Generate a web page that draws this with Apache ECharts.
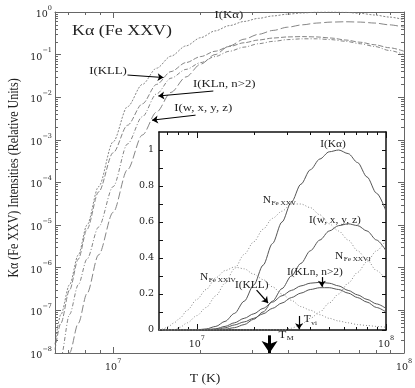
<!DOCTYPE html>
<html>
<head>
<meta charset="utf-8">
<script src="https://cdn.jsdelivr.net/npm/echarts@6/dist/echarts.min.js"></script>
<style>
  html, body { margin: 0; padding: 0; background: #fff; }
  #main { width: 415px; height: 388px; }
</style>
</head>
<body>
<div id="main"></div>
<script>
// temperature grid (K), shared by every curve
var temps = [6.31e6, 6.61e6, 7.08e6, 7.59e6, 8.13e6, 8.91e6, 1.0e7, 1.12e7, 1.26e7, 1.41e7,
  1.58e7, 1.78e7, 2.0e7, 2.24e7, 2.51e7, 2.82e7, 3.16e7, 3.55e7, 3.98e7, 4.47e7,
  5.01e7, 5.62e7, 6.31e7, 7.08e7, 7.94e7, 8.91e7, 1.0e8];

// line intensities (relative units)
var iKa   = [1.6e-8, 8e-8, 4e-7, 2e-6, 1e-5, 8e-5, 9e-4, 6e-3, 0.02, 0.048,
  0.092, 0.16, 0.25, 0.36, 0.48, 0.6, 0.71, 0.81, 0.89, 0.95,
  0.99, 1.0, 0.98, 0.93, 0.85, 0.76, 0.66];
var iKLL  = [1.2e-8, 5e-8, 3e-7, 1.6e-6, 8e-6, 6e-5, 5e-4, 2.2e-3, 7e-3, 0.02,
  0.04, 0.065, 0.09, 0.12, 0.155, 0.19, 0.22, 0.245, 0.26, 0.265,
  0.26, 0.245, 0.22, 0.195, 0.17, 0.145, 0.12];
var iKLn  = [3e-9, 8e-9, 8e-8, 4e-7, 1.6e-6, 9e-6, 8e-5, 8e-4, 3.5e-3, 0.012,
  0.028, 0.045, 0.065, 0.09, 0.12, 0.15, 0.18, 0.205, 0.225, 0.235,
  0.235, 0.225, 0.205, 0.18, 0.155, 0.125, 0.1];
var iWxyz = [1e-9, 2e-9, 1e-8, 5e-8, 2.5e-7, 2e-6, 2e-5, 2e-4, 1.3e-3, 4.5e-3,
  0.013, 0.03, 0.06, 0.1, 0.16, 0.23, 0.3, 0.37, 0.44, 0.5,
  0.55, 0.58, 0.59, 0.58, 0.55, 0.5, 0.44];

// ion fractions (inset only)
var nFe24 = [0, 0.005, 0.02, 0.04, 0.065, 0.11, 0.17, 0.225, 0.29, 0.33,
  0.35, 0.34, 0.31, 0.28, 0.24, 0.2, 0.165, 0.13, 0.11, 0.085,
  0.065, 0.05, 0.04, 0.03, 0.025, 0.02, 0.015];
var nFe25 = [0, 0, 0, 0, 0.015, 0.04, 0.08, 0.125, 0.19, 0.26,
  0.34, 0.42, 0.49, 0.56, 0.62, 0.66, 0.7, 0.7, 0.68, 0.64,
  0.59, 0.55, 0.5, 0.44, 0.39, 0.33, 0.28];
var nFe26 = [0, 0, 0, 0, 0, 0, 0, 0, 0, 0,
  0, 0, 0, 0, 0, 0, 0.01, 0.03, 0.065, 0.1,
  0.15, 0.2, 0.26, 0.32, 0.38, 0.44, 0.5];

// ticks
var xMin = 6.31e6, xMax = 1e8;
var decadeX = [1e7, 1e8];
var minorX = [7e6, 8e6, 9e6, 2e7, 3e7, 4e7, 5e7, 6e7, 7e7, 8e7, 9e7];
var decadeY = [1, 0.1, 0.01, 1e-3, 1e-4, 1e-5, 1e-6, 1e-7, 1e-8];
var insetMajorY = [0, 0.2, 0.4, 0.6, 0.8, 1];
var insetMinorY = [0.1, 0.3, 0.5, 0.7, 0.9];
var minorY = [];
decadeY.slice(1).forEach(function (d) {
  for (var m = 2; m <= 9; m++) minorY.push(m * d);
});

var SERIF = '"Liberation Serif", serif';
var LABEL_FONT = '"DejaVu Serif", serif';
var TXT = '#222';
var MAIN_C = '#666';
var INS_C = '#111';

function pow10(v) {
  var e = Math.round(Math.log(v) / Math.LN10);
  return '{b|10}{e|' + (e < 0 ? '\u2212' + (-e) : e) + '}';
}
var powRich = {
  b: { fontFamily: LABEL_FONT, fontSize: 9.5, color: TXT, lineHeight: 15, verticalAlign: 'bottom' },
  e: { fontFamily: LABEL_FONT, fontSize: 6.5, color: TXT, lineHeight: 7, verticalAlign: 'top' }
};

function side(gridIndex, type, pos, min, max, ticks, tickLen, color, lineWidth, label) {
  return {
    gridIndex: gridIndex, type: type, position: pos, min: min, max: max, logBase: 10,
    axisLine: { show: lineWidth > 0, onZero: false, lineStyle: { color: color, width: lineWidth } },
    axisTick: { show: true, inside: true, length: tickLen, customValues: ticks,
      lineStyle: { color: color, width: 1 } },
    axisLabel: label ? Object.assign({ show: true }, label) : { show: false },
    splitLine: { show: false },
    minorTick: { show: false }
  };
}

var powLabelX = { customValues: decadeX, formatter: pow10, rich: powRich, margin: 5 };
var powLabelY = { customValues: decadeY, formatter: pow10, rich: powRich, margin: 3 };
var insetLabelY = { customValues: insetMajorY, fontFamily: LABEL_FONT, fontSize: 9.5, color: TXT, margin: 5 };

function pairs(vals) {
  return temps.map(function (t, i) { return [t, vals[i]]; });
}
function curve(name, vals, axisIdx, ls, extra) {
  return Object.assign({
    name: name, type: 'line', xAxisIndex: axisIdx, yAxisIndex: axisIdx,
    data: pairs(vals), showSymbol: false, symbol: 'none',
    smooth: 0.3, smoothMonotone: 'x', silent: true, lineStyle: ls
  }, extra || {});
}
function arrows(lines, size, width) {
  return {
    silent: true, animation: false, symbol: ['none', 'arrow'], symbolSize: size,
    label: { show: false },
    lineStyle: { color: '#000', width: width, type: 'solid' },
    data: lines.map(function (l) { return [{ coord: l[0] }, { coord: l[1] }]; })
  };
}

var mainStyle = function (dash) { return { color: '#777', width: 0.9, type: dash }; };
var insStyle = { color: '#555', width: 1 };
var dotStyle = { color: '#888', width: 1, type: [1, 2] };

var option = {
  animation: false,
  backgroundColor: '#fff',
  textStyle: { fontFamily: LABEL_FONT },
  grid: [
    { left: 55, right: 11, top: 12, bottom: 35, containLabel: false, outerBoundsMode: 'none' },
    { left: 159, right: 29, top: 132, bottom: 58, containLabel: false, outerBoundsMode: 'none' }
  ],
  xAxis: [
    side(0, 'log', 'bottom', xMin, xMax, decadeX, 6, MAIN_C, 1, powLabelX),
    side(0, 'log', 'bottom', xMin, xMax, minorX, 3, MAIN_C, 0),
    side(0, 'log', 'top', xMin, xMax, decadeX, 6, MAIN_C, 1),
    side(0, 'log', 'top', xMin, xMax, minorX, 3, MAIN_C, 0),
    side(1, 'log', 'bottom', xMin, xMax, decadeX, 6, INS_C, 1.5, powLabelX),
    side(1, 'log', 'bottom', xMin, xMax, minorX, 3, INS_C, 0),
    side(1, 'log', 'top', xMin, xMax, decadeX, 6, INS_C, 1.5),
    side(1, 'log', 'top', xMin, xMax, minorX, 3, INS_C, 0)
  ],
  yAxis: [
    side(0, 'log', 'left', 1e-8, 1, decadeY, 6, MAIN_C, 1, powLabelY),
    side(0, 'log', 'left', 1e-8, 1, minorY, 3, MAIN_C, 0),
    side(0, 'log', 'right', 1e-8, 1, decadeY, 6, MAIN_C, 1),
    side(0, 'log', 'right', 1e-8, 1, minorY, 3, MAIN_C, 0),
    side(1, 'value', 'left', 0, 1.1, insetMajorY, 4, INS_C, 1.5, insetLabelY),
    side(1, 'value', 'left', 0, 1.1, insetMinorY, 4, INS_C, 0),
    side(1, 'value', 'right', 0, 1.1, insetMajorY, 4, INS_C, 1.5),
    side(1, 'value', 'right', 0, 1.1, insetMinorY, 4, INS_C, 0)
  ],
  series: [
    // main, log-log
    curve('I(Ka)', iKa, 0, mainStyle([2, 1.5]), {
      markLine: arrows([
        [[1.12e7, 0.0332], [1.49e7, 0.029]],
        [[2.21e7, 0.014], [1.43e7, 0.0107]],
        [[1.92e7, 3.8e-3], [1.36e7, 2.9e-3]]
      ], 6, 1)
    }),
    curve('I(KLL)', iKLL, 0, mainStyle([5, 2])),
    curve('I(KLn)', iKLn, 0, mainStyle([4, 2, 1, 2])),
    curve('I(wxyz)', iWxyz, 0, mainStyle([8, 3]), {
      markLine: arrows([[[3.45e7, 2.6e-8], [3.45e7, 1.0e-8]]], 12, 3)
    }),
    // inset, linear
    curve('I(Ka) inset', iKa, 4, insStyle, {
      markLine: arrows([
        [[4.58e7, 0.294], [4.58e7, 0.24]],
        [[2.07e7, 0.222], [2.38e7, 0.15]],
        [[3.47e7, 0.078], [3.47e7, 0.004]]
      ], 6, 1.2)
    }),
    curve('I(KLL) inset', iKLL, 4, insStyle),
    curve('I(KLn) inset', iKLn, 4, insStyle),
    curve('I(wxyz) inset', iWxyz, 4, insStyle),
    curve('N Fe XXIV', nFe24, 4, dotStyle),
    curve('N Fe XXV', nFe25, 4, dotStyle),
    curve('N Fe XXVI', nFe26, 4, dotStyle)
  ]
};

var chart = echarts.init(document.getElementById('main'), null, { renderer: 'canvas' });
chart.setOption(option);

// text notes, anchored in data space: [text, subscript, T, value, align]
var mainNotes = [
  ['I(K\u03b1)', '', 2.5e7, 0.85, 'center'],
  ['I(KLL)', '', 9.6e6, 0.041, 'center'],
  ['I(KLn, n>2)', '', 2.41e7, 0.0204, 'center'],
  ['I(w, x, y, z)', '', 2.04e7, 5.6e-3, 'center'],
  ['T', 'M', 3.7e7, 2.6e-8, 'left']
];
var insetNotes = [
  ['I(K\u03b1)', '', 5.25e7, 1.033, 'center'],
  ['N', 'Fe XXV', 2.23e7, 0.722, 'left'],
  ['I(w, x, y, z)', '', 5.37e7, 0.606, 'center'],
  ['N', 'Fe XXVI', 5.37e7, 0.411, 'left'],
  ['I(KLn, n>2)', '', 4.21e7, 0.317, 'center'],
  ['N', 'Fe XXIV', 1.04e7, 0.294, 'left'],
  ['I(KLL)', '', 1.95e7, 0.25, 'center'],
  ['T', 'vi', 3.68e7, 0.056, 'left']
];

function textEl(x, y, txt, align, size, sx, extra) {
  return Object.assign({
    type: 'text', x: x, y: y, scaleX: sx, silent: true, z: 50,
    style: {
      text: txt, fill: TXT, font: size + 'px ' + SERIF,
      align: align, textAlign: align,
      verticalAlign: 'middle', textVerticalAlign: 'middle'
    }
  }, extra || {});
}
function noteEls(p, n, size, sx) {
  var els = [textEl(p[0], p[1], n[0], n[4], size, sx)];
  if (n[1]) {
    // subscript placed right after the main glyph
    var w = echarts.format.getTextRect
      ? echarts.format.getTextRect(n[0], size + 'px ' + SERIF).width
      : size * 0.7 * n[0].length;
    els.push(textEl(p[0] + w * sx + 0.5, p[1] + size * 0.35, n[1], 'left',
      Math.round(size * 0.62), sx));
  }
  return els;
}

var graphics = [];
mainNotes.forEach(function (n) {
  var p = chart.convertToPixel({ seriesIndex: 0 }, [n[2], n[3]]);
  graphics = graphics.concat(noteEls(p, n, 10, 1.28));
});
insetNotes.forEach(function (n) {
  var p = chart.convertToPixel({ seriesIndex: 4 }, [n[2], n[3]]);
  graphics = graphics.concat(noteEls(p, n, 9.5, 1.2));
});
// frame texts
graphics.push(textEl(122, 31, 'K\u03b1 (Fe XXV)', 'center', 14, 1.28));
graphics.push(textEl(205, 379, 'T (K)', 'center', 13, 1.05));
graphics.push(textEl(14, 178, 'K\u03b1 (Fe XXV) Intensities (Relative Units)', 'center', 12, 1,
  { rotation: Math.PI / 2, scaleY: 1.2 }));

chart.setOption({ graphic: graphics });
</script>
</body>
</html>
